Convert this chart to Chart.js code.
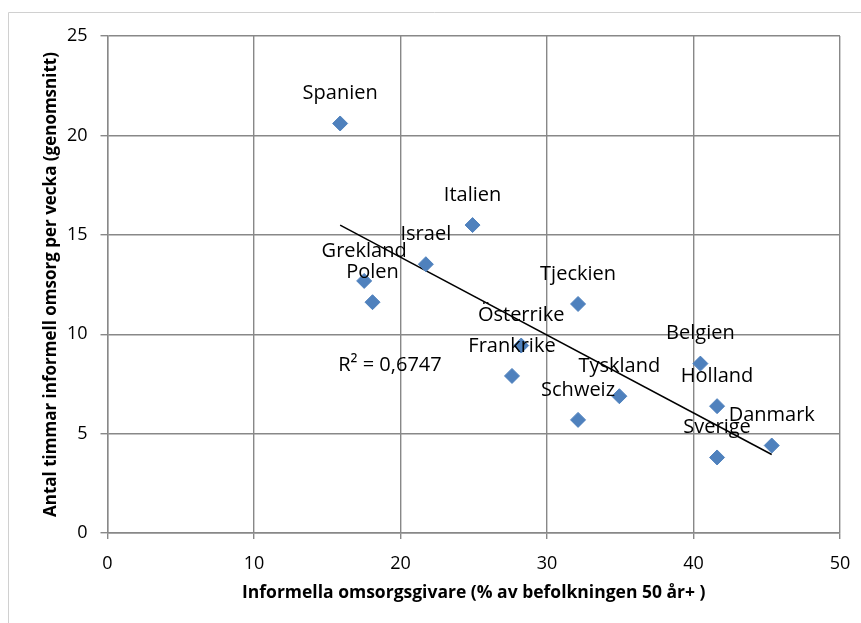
<!DOCTYPE html>
<html>
<head>
<meta charset="utf-8">
<script src="https://cdn.jsdelivr.net/npm/chart.js@4/dist/chart.umd.min.js"></script>
<style>
  html, body { margin: 0; padding: 0; background: #fff; }
  canvas { display: block; }
</style>
</head>
<body>
<canvas id="myChart" width="861" height="623"></canvas>
<script>
// countries, share of informal carers (x) and weekly hours (y)
var countries = ['Spanien', 'Grekland', 'Polen', 'Israel', 'Italien', 'Tjeckien', 'Österrike',
    'Frankrike', 'Schweiz', 'Tyskland', 'Belgien', 'Holland', 'Danmark', 'Sverige'];
var carers = [15.88, 17.52, 18.09, 21.73, 24.92, 32.12, 28.24, 27.61, 32.12, 34.94, 40.47, 41.61, 45.34, 41.61];
var hours = [20.6, 12.68, 11.61, 13.52, 15.49, 11.52, 9.43, 7.90, 5.69, 6.88, 8.52, 6.38, 4.40, 3.80];

// linear trend line
var trendX = [15.88, 45.34];
var trendY = [15.49, 3.95];
var r2Text = 'R² = 0,6747';

var xTicks = [0, 10, 20, 30, 40, 50];
var yTicks = [0, 5, 10, 15, 20, 25];

var FONT = '"Open Sans", "Noto Sans", sans-serif';
var gridColor = '#888888';

var points = carers.map(function (x, i) { return {x: x, y: hours[i]}; });
var trend = trendX.map(function (x, i) { return {x: x, y: trendY[i]}; });

var labelPlugin = {
    id: 'labels',
    beforeDraw: function (chart) {
        // light outer frame (only top and left edges are visible)
        var c = chart.ctx;
        c.save();
        c.strokeStyle = '#d0d0d0';
        c.lineWidth = 1;
        c.beginPath();
        c.moveTo(8.5, 623);
        c.lineTo(8.5, 12.5);
        c.lineTo(861, 12.5);
        c.stroke();
        c.restore();
    },
    afterDatasetsDraw: function (chart) {
        var c = chart.ctx;
        var meta = chart.getDatasetMeta(0);
        c.save();
        c.fillStyle = '#000';
        c.font = '20px ' + FONT;
        c.textAlign = 'center';
        c.textBaseline = 'middle';
        meta.data.forEach(function (pt, i) {
            c.fillText(countries[i], pt.x, pt.y - 30);
        });
        var xs = chart.scales.x, ys = chart.scales.y;
        c.textAlign = 'left';
        c.fillText(r2Text, xs.getPixelForValue(15.75), ys.getPixelForValue(8.45));
        c.restore();
    }
};

var ctx = document.getElementById('myChart').getContext('2d');
var myChart = new Chart(ctx, {
    type: 'scatter',
    data: {
        datasets: [{
            data: points,
            backgroundColor: '#4f81bd',
            borderColor: '#4f81bd',
            borderWidth: 1,
            pointStyle: 'rectRot',
            pointRadius: 7.5,
            order: 1
        }, {
            type: 'line',
            data: trend,
            borderColor: '#000',
            borderWidth: 1.5,
            pointRadius: 0,
            fill: false,
            order: 2
        }]
    },
    options: {
        responsive: false,
        animation: false,
        events: [],
        layout: {padding: {top: 36, right: 21, bottom: 0, left: 0}},
        plugins: {legend: {display: false}, tooltip: {enabled: false}},
        scales: {
            x: {
                type: 'linear', min: 0, max: 50,
                afterBuildTicks: function (s) { s.ticks = xTicks.map(function (v) { return {value: v}; }); },
                afterFit: function (s) { s.height = 90; s.paddingLeft = 0; s.paddingRight = 0; },
                grid: {color: gridColor, lineWidth: 1.4, tickLength: 6, drawTicks: true},
                border: {color: gridColor, width: 1.4},
                ticks: {color: '#000', font: {family: FONT, size: 18}, padding: 14, maxRotation: 0},
                title: {
                    display: true,
                    text: 'Informella omsorgsgivare (% av befolkningen 50 år+ )',
                    color: '#000',
                    font: {family: FONT, size: 17.5, weight: 'bold'},
                    padding: {top: 8, bottom: 19}
                }
            },
            y: {
                type: 'linear', min: 0, max: 25,
                afterBuildTicks: function (s) { s.ticks = yTicks.map(function (v) { return {value: v}; }); },
                afterFit: function (s) { s.width = 107.5; },
                grid: {color: gridColor, lineWidth: 1.4, tickLength: 7, drawTicks: true},
                border: {color: gridColor, width: 1.4},
                ticks: {color: '#000', font: {family: FONT, size: 18}, padding: 13},
                title: {
                    display: true,
                    text: 'Antal timmar informell omsorg per vecka (genomsnitt)',
                    color: '#000',
                    font: {family: FONT, size: 17, weight: 'bold'},
                    padding: {top: 41, bottom: 0}
                }
            }
        }
    },
    plugins: [labelPlugin]
});
</script>
</body>
</html>
